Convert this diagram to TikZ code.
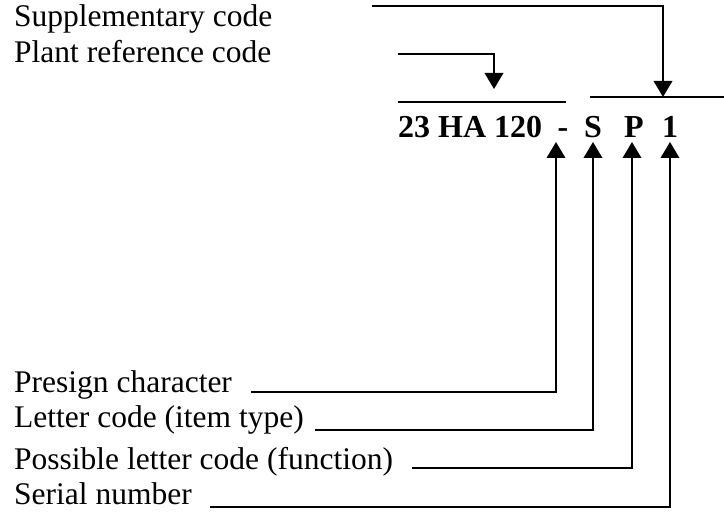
\documentclass[tikz,border=0pt]{standalone}
\usepackage{fontspec}
\setmainfont{Liberation Serif}
\usetikzlibrary{arrows.meta}
\begin{document}
\begin{tikzpicture}[x=1pt,y=-1pt,
  lbl/.style={anchor=base west,inner sep=0pt,font=\fontsize{31.5}{38}\selectfont},
  codetxt/.style={anchor=base,inner sep=0pt,font=\fontsize{32}{38}\selectfont\bfseries},
  conn/.style={line width=2pt},
  arr/.style={conn,-{Triangle[length=16pt,width=18.5pt]}},
]
\useasboundingbox (0,0) rectangle (724,513);
% labels
\node[lbl] (supp) at (14,27) {Supplementary code};
\node[lbl] (plant) at (14,63) {Plant reference code};
\node[lbl] (pre) at (14,393) {Presign character};
\node[lbl] (let) at (14,428) {Letter code (item type)};
\node[lbl] (pos) at (14,469) {Possible letter code (function)};
\node[lbl] (ser) at (14,504) {Serial number};
% code
\node[codetxt,anchor=base west] (num) at (398,138) {23 HA 120};
\node[codetxt] (dash) at (563,138) {-};
\node[codetxt] (S) at (593,138) {S};
\node[codetxt] (P) at (634,138) {P};
\node[codetxt] (one) at (670,138) {1};
% overlines
\coordinate (olA) at (398,102);
\coordinate (olB) at (566,102);
\coordinate (orA) at (590,97);
\coordinate (orB) at (724,97);
\draw[conn] (olA) -- (olB);
\draw[conn] (orA) -- (orB);
% top connectors
\coordinate (suppS) at (372,6);
\coordinate (suppT) at (663,97);
\coordinate (plantS) at (398,54);
\coordinate (plantT) at (494,89);
\draw[arr] (suppS) -| (suppT);
\draw[arr] (plantS) -| (plantT);
% bottom connectors
\coordinate (preS) at (251,392);
\coordinate (letS) at (315,430);
\coordinate (posS) at (412,468);
\coordinate (serS) at (210,507);
\coordinate (tDash) at (556,142);
\coordinate (tS) at (593,142);
\coordinate (tP) at (632,142);
\coordinate (tOne) at (670,142);
\draw[arr] (preS) -| (tDash);
\draw[arr] (letS) -| (tS);
\draw[arr] (posS) -| (tP);
\draw[arr] (serS) -| (tOne);
\end{tikzpicture}
\end{document}
